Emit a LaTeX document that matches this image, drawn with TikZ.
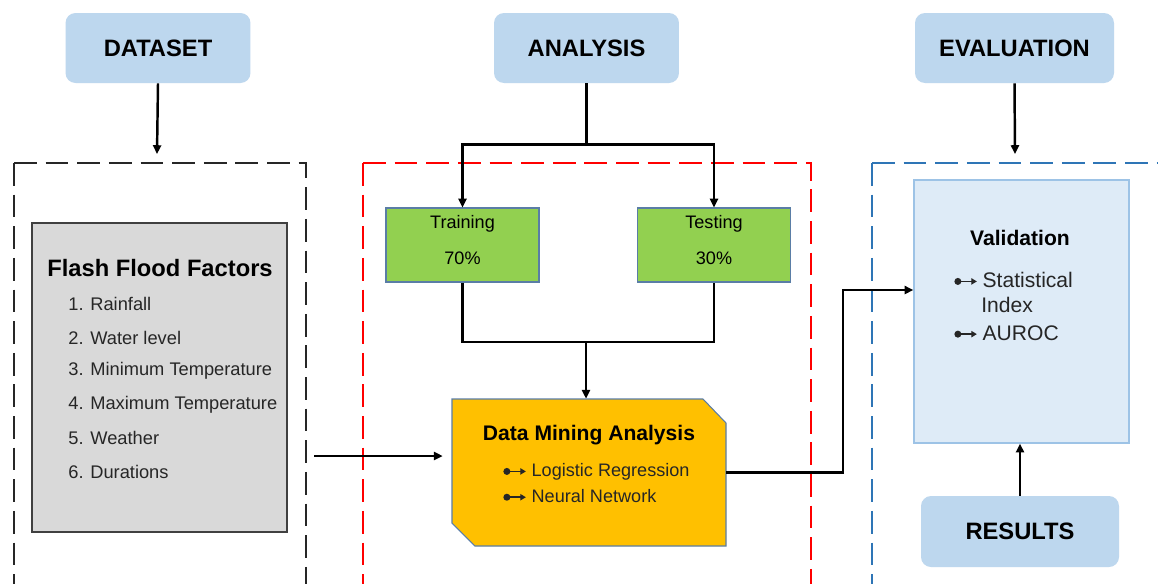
\documentclass[tikz,border=0pt]{standalone}
\usepackage{fontspec}
\setmainfont{Liberation Sans}
\usepackage{tikz}
\usetikzlibrary{arrows.meta}
\usetikzlibrary{positioning}

\definecolor{headblue}{HTML}{BDD7EE}
\definecolor{factgray}{HTML}{D9D9D9}
\definecolor{traingreen}{HTML}{92D050}
\definecolor{boxedge}{HTML}{5A7DA6}
\definecolor{mineorange}{HTML}{FFC000}
\definecolor{valfill}{HTML}{DEEBF7}
\definecolor{valedge}{HTML}{9DC3E6}
\definecolor{framegray}{HTML}{262626}
\definecolor{frameblue}{HTML}{2E75B6}

\newcommand{\dotarrow}{\tikz[baseline=-0.55ex]{\fill (0,0) circle (2pt);
    \draw[line width=0.9pt, -{Triangle[length=3.2pt,width=3.6pt]}] (0,0) -- (0.38cm,0);}\hspace{0.1cm}}

\begin{document}
\begin{tikzpicture}[x=0.02cm, y=-0.02cm,
    header/.style={fill=headblue, rounded corners=0.2cm, minimum height=1.4cm,
        font=\fontsize{13.5}{16}\selectfont\bfseries},
    frame/.style={line width=1.5pt, dash pattern=on 13pt off 5pt},
    greenbox/.style={draw=boxedge, fill=traingreen, line width=0.6pt, minimum width=3.06cm,
        minimum height=1.48cm},
    boxtext/.style={align=center, font=\fontsize{10.3}{12.4}\selectfont},
    conn/.style={line width=1.4pt},
    arr/.style={conn, -{Triangle[length=5pt,width=4.6pt]}},
    item/.style={anchor=west, inner sep=0pt, text=black!85, font=\fontsize{10.4}{12.5}\selectfont}]

    \useasboundingbox (0,0) rectangle (1158,583);
    \clip (0,0) rectangle (1158,583);
    \fill[white] (0,0) rectangle (1158,583);

    % headers
    \node[header, minimum width=3.7cm] (dataset) at (158,48) {DATASET};
    \node[header, minimum width=3.7cm] (analysis) at (586.5,48) {ANALYSIS};
    \node[header, minimum width=3.98cm] (evaluation) at (1014.5,48) {EVALUATION};
    \node[header, minimum width=3.96cm, minimum height=1.42cm] (results) at (1020,531.5) {RESULTS};

    % dashed frames, open at the bottom
    \draw[frame, color=framegray] (14,163) -- (14,600);
    \draw[frame, color=framegray] (14,163) -- (306,163) -- (306,600);
    \draw[frame, red] (363,163) -- (363,600);
    \draw[frame, red] (363,163) -- (811,163) -- (811,600);
    \draw[frame, color=frameblue] (872,163) -- (872,600);
    \draw[frame, color=frameblue] (872,163) -- (1170,163);
    \coordinate (datatop) at (157,154);
    \coordinate (evaltop) at (1015,154);

    % factors
    \node[draw=black!75, fill=factgray, line width=0.8pt, minimum width=5.1cm,
        minimum height=6.18cm] (factors) at (159.5,377.5) {};
    \node[font=\fontsize{13.5}{16}\selectfont\bfseries] (factitle) at (160,268) {Flash Flood Factors};
    \foreach \i/\f in {1/Rainfall, 2/Water level, 3/Minimum Temperature,
        4/Maximum Temperature, 5/Weather, 6/Durations}
        \node[item] (f\i) at (68,{304+33.6*(\i-1)}) {\i. \f};
    \coordinate (factout) at (314,456);

    % training / testing
    \node[greenbox] (train) at (462.5,245) {};
    \node[greenbox] (test) at (714,245) {};
    \node[boxtext] (traintext) at ([yshift=0.1cm]train.center) {Training\\[8pt]70\%};
    \node[boxtext] (testtext) at ([yshift=0.1cm]test.center) {Testing\\[8pt]30\%};
    \coordinate (merge) at (586,342);

    % data mining
    \fill[mineorange] (452,399) -- (703,399) -- (726,423) -- (726,546) -- (475,546) -- (452,523) -- cycle;
    \draw[boxedge, line width=0.6pt] (452,399) -- (703,399) -- (726,423) -- (726,546) -- (475,546) -- (452,523) -- cycle;
    \node[minimum width=5.48cm, minimum height=2.94cm] (dma) at (589,472.5) {};
    \node[font=\fontsize{12}{14}\selectfont\bfseries] (dmatitle) at (589,435) {Data Mining Analysis};
    \node[item, font=\fontsize{10.3}{12.4}\selectfont] (logreg) at (503,472) {\dotarrow Logistic Regression};
    \node[item, font=\fontsize{10.3}{12.4}\selectfont] (neural) at (503,496) {\dotarrow Neural Network};

    % validation
    \node[draw=valedge, fill=valfill, line width=0.8pt, minimum width=4.3cm,
        minimum height=5.26cm] (valid) at (1021.5,311.5) {};
    \node[font=\fontsize{12}{14}\selectfont\bfseries] (valtitle) at (1020,238) {Validation};
    \node[item, font=\fontsize{12}{14}\selectfont] (statidx) at (954,280) {\dotarrow Statistical};
    \node[item, font=\fontsize{12}{14}\selectfont] (statidx2) at (981,305) {Index};
    \node[item, font=\fontsize{12}{14}\selectfont] (auroc) at (954,333) {\dotarrow AUROC};
    \coordinate (bend) at (843,290);

    % connectors
    \draw[arr] (dataset.south) -- (datatop);
    \draw[arr] (evaluation.south) -- (evaltop);
    \draw[arr] (analysis.south) -- ++(0,61) -| (train.north);
    \draw[arr] (analysis.south) -- ++(0,61) -| (test.north);
    \draw[conn] (train.south) |- (merge) -| (test.south);
    \draw[arr] (merge) -- (merge |- dma.north);
    \draw[arr, shorten >=0.18cm] (factout) -- (factout -| dma.west);
    \draw[arr] (dma.east) -| (bend) -- (bend -| valid.west);
    \draw[arr] (results.north) -- (results.north |- valid.south);
\end{tikzpicture}
\end{document}
